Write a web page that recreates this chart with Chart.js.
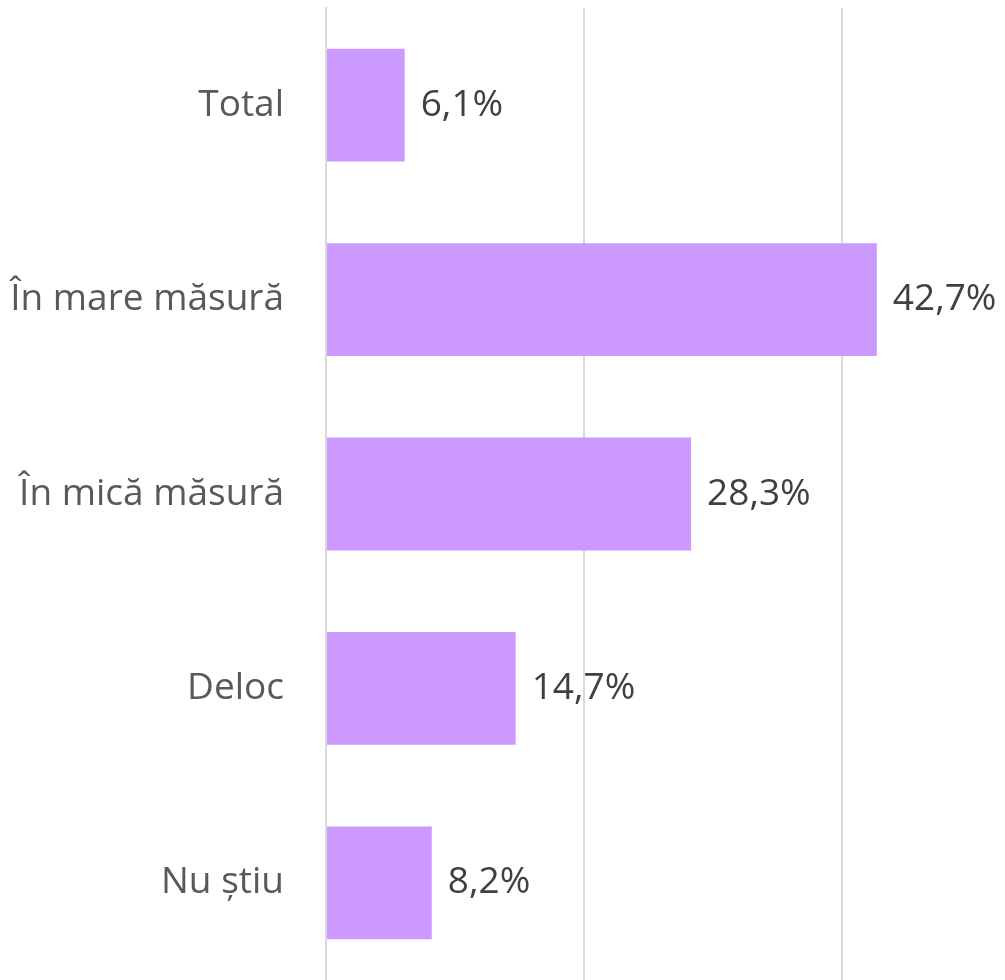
<!DOCTYPE html>
<html>
<head>
<meta charset="utf-8">
<script src="https://cdn.jsdelivr.net/npm/chart.js@4"></script>
<style>
  html, body { margin: 0; padding: 0; background: #fff; }
  #wrap { width: 1005px; height: 980px; }
</style>
</head>
<body>
<div id="wrap"><canvas id="chart"></canvas></div>
<script>
const categories = ["Total", "În mare măsură", "În mică măsură", "Deloc", "Nu știu"];
const shares = [6.1, 42.7, 28.3, 14.7, 8.2];

const FONT = "'Open Sans', sans-serif";

// percentage written to the right of each bar
const valueLabels = {
  id: "valueLabels",
  afterDatasetsDraw(chart) {
    const ctx = chart.ctx;
    const meta = chart.getDatasetMeta(0);
    ctx.save();
    ctx.font = "37px " + FONT;
    ctx.fillStyle = "#404040";
    ctx.textAlign = "left";
    ctx.textBaseline = "middle";
    meta.data.forEach((bar, i) => {
      const txt = shares[i].toFixed(1).replace(".", ",") + "%";
      ctx.fillText(txt, bar.x + 16, bar.y);
    });
    ctx.restore();
  },
};

new Chart(document.getElementById("chart"), {
  type: "bar",
  data: {
    labels: categories,
    datasets: [
      {
        data: shares,
        backgroundColor: "#cc99ff",
        categoryPercentage: 0.58,
        barPercentage: 1,
      },
    ],
  },
  options: {
    indexAxis: "y",
    responsive: true,
    maintainAspectRatio: false,
    animation: false,
    layout: { padding: { top: 8, right: 34, bottom: 0, left: 0 } },
    plugins: {
      legend: { display: false },
      tooltip: { enabled: false },
    },
    scales: {
      x: {
        min: 0,
        max: 50,
        ticks: { display: false, stepSize: 20 },
        grid: {
          // only the 20% steps get a line, not the axis end
          color: (c) => (c.tick && c.tick.value % 20 === 0 ? "#d9d9d9" : "transparent"),
          lineWidth: 2,
          drawTicks: false,
        },
        border: { display: false },
        afterFit: (scale) => { scale.height = 0; },
      },
      y: {
        afterFit: (scale) => {
          scale.width = 326;
          scale.paddingTop = 0;
          scale.paddingBottom = 0;
        },
        ticks: {
          color: "#595959",
          font: { family: FONT, size: 37 },
          padding: 42,
        },
        grid: { display: false, drawTicks: false },
        border: { color: "#d9d9d9", width: 2 },
      },
    },
  },
  plugins: [valueLabels],
});
</script>
</body>
</html>
